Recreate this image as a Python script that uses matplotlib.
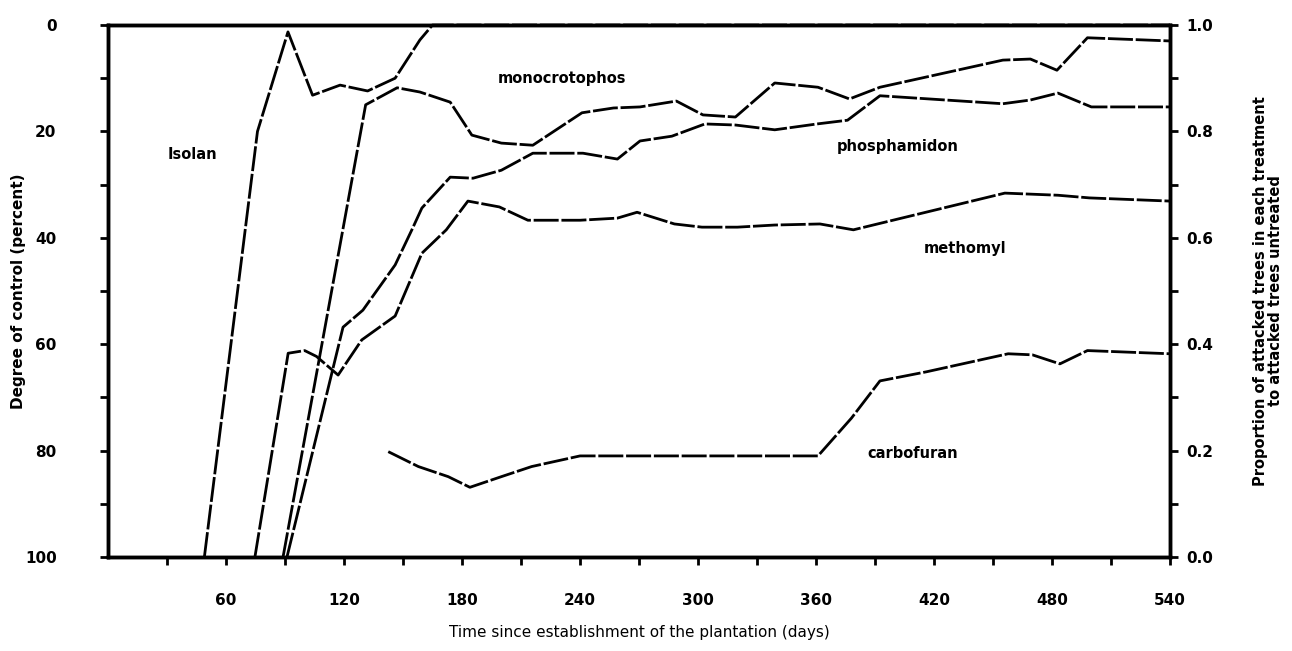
"""Degree of control by five insecticides over time since plantation.

Left axis: degree of control (percent, 0 at top). Right axis: proportion
of attacked trees in each treatment to attacked trees untreated.
"""
import matplotlib

matplotlib.use("Agg")
import matplotlib.pyplot as plt

# === data (days, degree of control in percent) ===
isolan_days = [49, 76, 91.5, 104, 118, 132, 146, 158.6, 165, 540]
isolan_ctrl = [100, 20, 1.3, 13.2, 11.3, 12.4, 10, 2.8, 0, 0]

monocrotophos_days = [89, 131, 147, 158.6, 174, 185, 200, 216, 241, 257, 270.5,
                      289, 302.5, 319, 339, 361, 377, 392.5, 455, 469, 482.5,
                      498, 540]
monocrotophos_ctrl = [100, 15, 11.8, 12.6, 14.5, 20.7, 22.2, 22.6, 16.5, 15.6,
                      15.4, 14.3, 16.9, 17.3, 10.9, 11.7, 13.9, 11.7, 6.6, 6.4,
                      8.5, 2.4, 3.0]

phosphamidon_days = [91, 119.5, 129.6, 146, 154.5, 159.6, 174, 185.6, 200, 216,
                     241.5, 259, 270.5, 286.7, 303.5, 319, 339, 360.5, 376,
                     392.5, 455, 469, 483, 500, 540]
phosphamidon_ctrl = [100, 56.8, 53.6, 45.1, 38.5, 34.4, 28.6, 28.8, 27.3, 24.1,
                     24.1, 25.2, 21.8, 20.9, 18.6, 18.8, 19.7, 18.6, 17.9,
                     13.3, 14.8, 14.1, 12.8, 15.4, 15.4]

methomyl_days = [74.7, 91.6, 100, 106, 117, 129, 146, 159.6, 172, 183, 199,
                 213.5, 240, 259, 269, 288, 302, 320, 339, 362, 379, 456, 483,
                 499, 540]
methomyl_ctrl = [100, 61.7, 61.2, 62.3, 65.8, 59.2, 54.7, 42.9, 38.5, 33.1,
                 34.2, 36.7, 36.7, 36.3, 35.2, 37.4, 38, 38, 37.6, 37.4, 38.5,
                 31.6, 32, 32.5, 33.1]

carbofuran_days = [142.5, 157.8, 173, 184, 200, 215.4, 240, 361, 378, 392.5,
                   416, 457.7, 470, 484, 498, 540]
carbofuran_ctrl = [80.2, 83.0, 84.9, 86.9, 84.9, 83.0, 81.0, 81.0, 73.9, 66.9,
                   65.2, 61.8, 62, 63.7, 61.2, 61.8]

x_ticks_major = [60, 120, 180, 240, 300, 360, 420, 480, 540]
x_ticks_minor = list(range(30, 541, 30))
y_ticks_major = [0, 20, 40, 60, 80, 100]
y_ticks_minor = list(range(0, 101, 10))
prop_ticks_major = [0.0, 0.2, 0.4, 0.6, 0.8, 1.0]
prop_ticks_minor = [i / 10 for i in range(11)]

series = [
    ("Isolan", isolan_days, isolan_ctrl, (30.5, 24.4)),
    ("monocrotophos", monocrotophos_days, monocrotophos_ctrl, (198, 10.0)),
    ("phosphamidon", phosphamidon_days, phosphamidon_ctrl, (370.5, 22.9)),
    ("methomyl", methomyl_days, methomyl_ctrl, (415, 42.0)),
    ("carbofuran", carbofuran_days, carbofuran_ctrl, (386, 80.5)),
]

plt.rcParams["font.family"] = ["DejaVu Sans"]
plt.rcParams["font.weight"] = "bold"

fig = plt.figure(figsize=(12.92, 6.51), dpi=100)
ax = fig.add_axes([0.0836, 0.1444, 0.8220, 0.8172])

# hand-drawn look: long dashes with short gaps
for name, days, ctrl, (tx, ty) in series:
    ax.plot(days, ctrl, color="black", lw=2.0,
            linestyle=(0, (9, 1.0)), solid_capstyle="butt",
            clip_on=False)
    ax.text(tx, ty, name, fontsize=10.5, fontweight="bold",
            ha="left", va="center")

ax.set_xlim(0, 540)
ax.set_ylim(100, 0)
ax.set_xticks(x_ticks_major)
ax.set_xticks(x_ticks_minor, minor=True)
ax.set_yticks(y_ticks_major)
ax.set_yticks(y_ticks_minor, minor=True)
ax.tick_params(axis="x", which="both", direction="out", length=6, width=2,
               labelsize=11, pad=20)
ax.tick_params(axis="y", which="both", direction="out", length=6, width=2,
               labelsize=11, pad=31)
for sp in ax.spines.values():
    sp.set_linewidth(2.5)

ax.set_ylabel("Degree of control (percent)", fontsize=11, fontweight="bold")
ax.yaxis.set_label_coords(-0.077, 0.5)
ax.set_xlabel("Time since establishment of the plantation (days)",
              fontsize=11, fontweight="normal", labelpad=12)

# right-hand proportion axis
ax2 = ax.twinx()
ax2.set_ylim(0, 1)
ax2.set_yticks(prop_ticks_major)
ax2.set_yticklabels([f"{v:.1f}" for v in prop_ticks_major])
ax2.set_yticks(prop_ticks_minor, minor=True)
ax2.tick_params(axis="y", which="both", direction="out", length=6, width=2,
                labelsize=11, pad=6)
for sp in ax2.spines.values():
    sp.set_linewidth(2.5)
ax2.set_ylabel("Proportion of attacked trees in each treatment\n"
               "to attacked trees untreated",
               fontsize=10.5, fontweight="bold", labelpad=28,
               linespacing=1.0)

fig.savefig("out.png", dpi=100)
